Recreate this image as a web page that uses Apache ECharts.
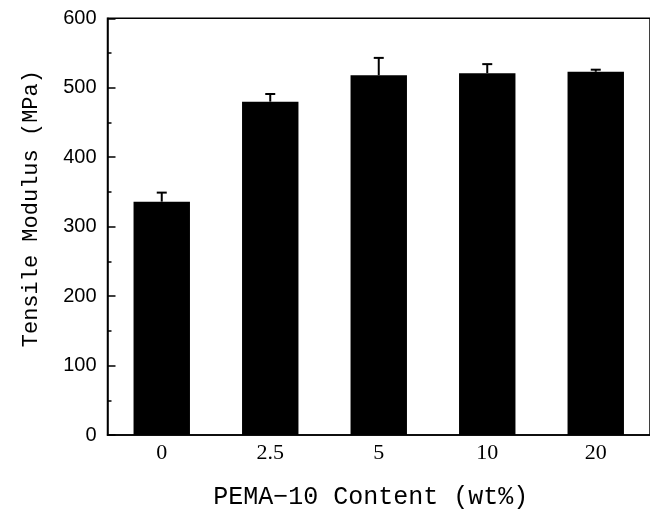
<!DOCTYPE html>
<html>
<head>
<meta charset="utf-8">
<script src="https://cdn.jsdelivr.net/npm/echarts@6/dist/echarts.min.js"></script>
<style>html,body{margin:0;padding:0;background:#fff;}#c{width:650px;height:515px;}</style>
</head>
<body>
<div id="c"></div>
<script>
var categories = ['0', '2.5', '5', '10', '20'];
var modulus = [336, 480, 518, 521, 523];
var errors = [13, 11, 25, 13, 3];
var yTicks = [0, 100, 200, 300, 400, 500, 600];

var chart = echarts.init(document.getElementById('c'));
var errData = modulus.map(function (v, i) { return [i, v, errors[i]]; });

chart.setOption({
  animation: false,
  backgroundColor: '#fff',
  grid: { left: 107.5, top: 18.3, right: -7.5, bottom: 75.7, show: true, borderColor: '#000', borderWidth: 1.5, backgroundColor: 'transparent' },
  xAxis: {
    type: 'category',
    data: categories,
    axisLine: { lineStyle: { color: '#000', width: 1.5 } },
    axisTick: { show: false },
    axisLabel: { color: '#000', fontFamily: 'Liberation Serif', fontSize: 22, margin: 7 },
    name: 'PEMA\u221210 Content (wt%)',
    nameLocation: 'middle',
    nameGap: 50,
    nameTextStyle: { color: '#000', fontFamily: 'Liberation Mono', fontSize: 25, padding: [0, 16, 0, 0] }
  },
  yAxis: {
    type: 'value',
    min: 0, max: 600, interval: 100,
    axisLine: { show: true, lineStyle: { color: '#000', width: 1.5 } },
    axisTick: { show: true, inside: true, length: 8, lineStyle: { color: '#000', width: 1.5 } },
    minorTick: { show: true, splitNumber: 2, length: 4, lineStyle: { color: '#000', width: 1.5 } },
    splitLine: { show: false },
    axisLabel: { color: '#000', fontFamily: 'Liberation Sans', fontSize: 20, margin: 11,
      formatter: function (v) { return yTicks.indexOf(v) >= 0 ? String(v) : ''; } },
    name: 'Tensile Modulus (MPa)',
    nameLocation: 'middle',
    nameGap: 65,
    nameTextStyle: { color: '#000', fontFamily: 'Liberation Mono', fontSize: 22, padding: [0, 0, 0, 36] }
  },
  series: [
    {
      type: 'bar',
      data: modulus,
      barWidth: '52%',
      itemStyle: { color: '#000' },
      z: 2
    },
    {
      type: 'custom',
      data: errData,
      z: 3,
      renderItem: function (params, api) {
        var i = api.value(0), v = api.value(1), e = api.value(2);
        var base = api.coord([i, v]);
        var top = api.coord([i, v + e]);
        var hw = 5;
        return {
          type: 'group',
          children: [
            { type: 'line', shape: { x1: base[0], y1: base[1], x2: top[0], y2: top[1] }, style: { stroke: '#000', lineWidth: 2 } },
            { type: 'line', shape: { x1: top[0] - hw, y1: top[1], x2: top[0] + hw, y2: top[1] }, style: { stroke: '#000', lineWidth: 2 } }
          ]
        };
      }
    }
  ]
});
</script>
</body>
</html>
